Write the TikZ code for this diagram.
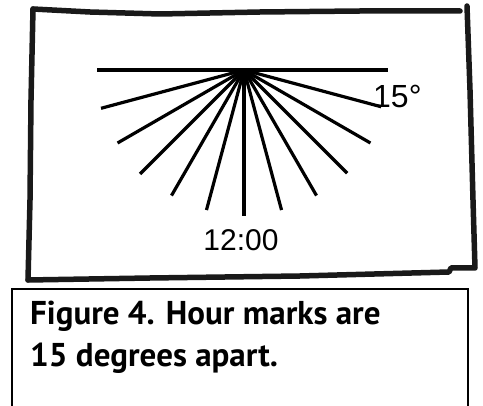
\documentclass[tikz,border=0pt]{standalone}
\usepackage{fontspec}
\usetikzlibrary{calc}
\newfontfamily\labfont{Liberation Sans}
\newfontfamily\capfont{PT Sans}

\begin{document}
\begin{tikzpicture}[
    x=1pt, y=-1pt,
    frame/.style={line width=5.5pt, line join=round, line cap=round, black!90},
    ray/.style={line width=3.2pt},
    lab/.style={inner sep=0pt, font=\labfont\fontsize{30}{30}\selectfont},
    captext/.style={inner sep=0pt, anchor=base west, font=\capfont\bfseries\fontsize{33}{33}\selectfont}
]
\useasboundingbox (0,0) rectangle (483,406);

% hand drawn frame
\draw[frame] (33,9) -- (90,12) -- (160,14) -- (260,12) -- (360,11) -- (460,11);
\draw[frame] (467,6) -- (470,90) -- (473,200) -- (475,268) -- (451,268)
    -- (449,272) -- (300,276) -- (150,278) -- (28,280);
\draw[frame] (28,280) -- (30,200) -- (31,100) -- (33,9);

% dial
\coordinate (o) at (244,70);
\coordinate (w) at (97,70);
\coordinate (e) at (388,70);
\draw[ray] (w) -- (e);

\coordinate (r1)  at ($(o)+(15:142)$);
\coordinate (r2)  at ($(o)+(30:146)$);
\coordinate (r3)  at ($(o)+(45:146)$);
\coordinate (r4)  at ($(o)+(60:145)$);
\coordinate (r5)  at ($(o)+(75:145)$);
\coordinate (r6)  at ($(o)+(90:146)$);
\coordinate (r7)  at ($(o)+(105:145)$);
\coordinate (r8)  at ($(o)+(120:145)$);
\coordinate (r9)  at ($(o)+(135:147)$);
\coordinate (r10) at ($(o)+(150:146)$);
\coordinate (r11) at ($(o)+(165:148)$);

\draw[ray] (o) -- (r1);
\draw[ray] (o) -- (r2);
\draw[ray] (o) -- (r3);
\draw[ray] (o) -- (r4);
\draw[ray] (o) -- (r5);
\draw[ray] (o) -- (r6);
\draw[ray] (o) -- (r7);
\draw[ray] (o) -- (r8);
\draw[ray] (o) -- (r9);
\draw[ray] (o) -- (r10);
\draw[ray] (o) -- (r11);

\node[lab, anchor=base west, font=\labfont\fontsize{32}{32}\selectfont] (deg) at (373,108) {15°};
\node[lab] (noon) at (241,240) {12:00};

% caption box
\draw[line width=2pt] (12,408) -- (12,289.5) -- (468,289.5) -- (468,408);
\node[captext] (cap1) at (30,325) {Figure 4. Hour marks are};
\node[captext] (cap2) at (30,367) {15 degrees apart.};

\end{tikzpicture}
\end{document}
